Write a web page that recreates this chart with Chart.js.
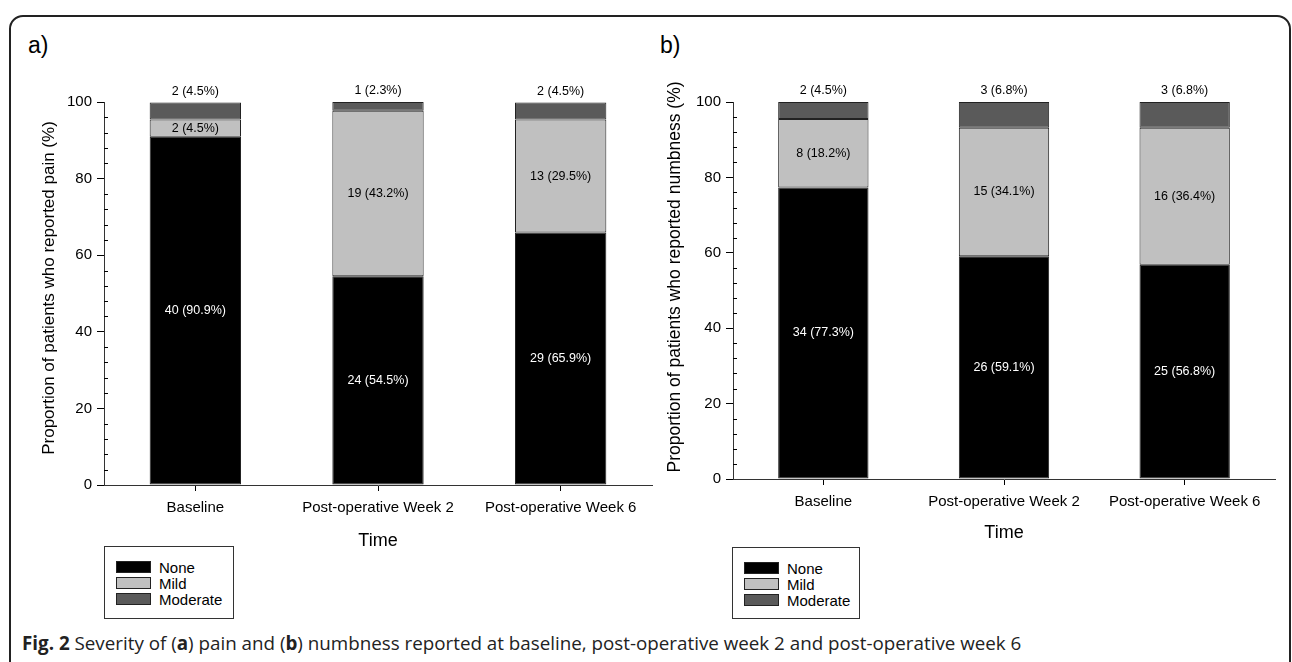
<!DOCTYPE html>
<html>
<head>
<meta charset="utf-8">
<script src="https://cdn.jsdelivr.net/npm/chart.js@4.4.1/dist/chart.umd.min.js"></script>
<style>
  body { margin: 0; background: #fff; width: 1292px; height: 662px; overflow: hidden; position: relative;
         font-family: "Liberation Sans", Arial, sans-serif; color: #000; }
  .frame { position: absolute; left: 9px; top: 15px; width: 1282px; height: 700px;
           border: 2px solid #222; border-radius: 14px; box-sizing: border-box; }
  .tag { position: absolute; font-size: 23px; line-height: 1; }
  canvas { position: absolute; }
  .legend { position: absolute; border: 1px solid #333; background: #fff; box-sizing: border-box;
            padding: 12px 0 0 11px; }
  .legend .row { display: flex; align-items: center; height: 16px; font-size: 15px; }
  .legend .sw { width: 35px; height: 12px; border: 1px solid #222; margin-right: 8px; box-sizing: border-box; }
  .caption { position: absolute; left: 22px; top: 632px; font-family: "Open Sans", sans-serif;
             font-size: 18.8px; line-height: 1.2; color: #222; white-space: nowrap; }
</style>
</head>
<body>
<div class="frame"></div>
<div class="tag" style="left:28px; top:34px;">a)</div>
<div class="tag" style="left:660px; top:34px;">b)</div>
<canvas id="painChart" width="660" height="560" style="left:0; top:0;"></canvas>
<canvas id="numbChart" width="652" height="560" style="left:640px; top:0;"></canvas>
<div class="legend" id="legendA" style="left:104px; top:546px; width:130px; height:73px;"></div>
<div class="legend" id="legendB" style="left:732px; top:547px; width:128px; height:72px;"></div>
<div class="caption"><b>Fig. 2</b> Severity of (<b>a</b>) pain and (<b>b</b>) numbness reported at baseline, post-operative week 2 and post-operative week 6</div>

<script>
const categories = ['Baseline', 'Post-operative Week 2', 'Post-operative Week 6'];
const severity = ['None', 'Mild', 'Moderate'];
const severityColors = ['#000000', '#c0c0c0', '#5a5a5a'];
const labelColors = ['#ffffff', '#000000', '#000000'];

// (a) pain: counts and percentages
const painNoneN = [40, 24, 29];
const painNonePct = [90.9, 54.5, 65.9];
const painMildN = [2, 19, 13];
const painMildPct = [4.5, 43.2, 29.5];
const painModN = [2, 1, 2];
const painModPct = [4.5, 2.3, 4.5];

// (b) numbness
const numbNoneN = [34, 26, 25];
const numbNonePct = [77.3, 59.1, 56.8];
const numbMildN = [8, 15, 16];
const numbMildPct = [18.2, 34.1, 36.4];
const numbModN = [2, 3, 3];
const numbModPct = [4.5, 6.8, 6.8];

const FONT = '"Liberation Sans", Arial, sans-serif';

// counts + percent on each segment; moderate goes above the bar
const segmentLabels = {
  id: 'segmentLabels',
  afterDatasetsDraw(chart) {
    const ctx = chart.ctx;
    ctx.save();
    ctx.font = '12.5px ' + FONT;
    ctx.textAlign = 'center';
    ctx.textBaseline = 'middle';
    chart.data.datasets.forEach((ds, i) => {
      chart.getDatasetMeta(i).data.forEach((bar, j) => {
        const text = ds.counts[j] + ' (' + ds.data[j].toFixed(1) + '%)';
        const y = i === 2 ? bar.y - 11 : (bar.y + bar.base) / 2;
        ctx.fillStyle = labelColors[i];
        ctx.fillText(text, bar.x, y);
      });
    });
    ctx.restore();
  }
};

// minor ticks point inward, y title placed by hand
const axisExtras = {
  id: 'axisExtras',
  afterDraw(chart, args, opts) {
    const ctx = chart.ctx;
    const yScale = chart.scales.y;
    const left = chart.chartArea.left;
    ctx.save();
    ctx.strokeStyle = '#000';
    ctx.lineWidth = 1;
    yScale.ticks.forEach(t => {
      if (t.value % 20 === 0) return;
      const py = Math.round(yScale.getPixelForValue(t.value)) + 0.5;
      ctx.beginPath();
      ctx.moveTo(left, py);
      ctx.lineTo(left + 4, py);
      ctx.stroke();
    });
    ctx.translate(opts.titleX, opts.titleY);
    ctx.rotate(-Math.PI / 2);
    ctx.font = opts.titleSize + 'px ' + FONT;
    ctx.fillStyle = '#000';
    ctx.textAlign = 'center';
    ctx.textBaseline = 'middle';
    ctx.fillText(opts.title, 0, 0);
    ctx.restore();
  }
};

function makeChart(id, counts, pcts, lay) {
  const datasets = severity.map((name, i) => ({
    label: name,
    data: pcts[i],
    counts: counts[i],
    backgroundColor: severityColors[i],
    borderColor: '#222',
    borderWidth: 1,
    borderSkipped: false,
    barPercentage: 0.5,
    categoryPercentage: 1,
  }));

  return new Chart(document.getElementById(id), {
    type: 'bar',
    data: { labels: categories, datasets },
    plugins: [segmentLabels, axisExtras],
    options: {
      responsive: false,
      animation: false,
      layout: { padding: { top: 102, right: lay.right, left: 0, bottom: 0 } },
      plugins: {
        legend: { display: false },
        tooltip: { enabled: false },
        axisExtras: { title: lay.title, titleX: lay.titleX, titleY: lay.titleY, titleSize: lay.titleSize }
      },
      scales: {
        x: {
          stacked: true,
          ticks: { color: '#000', font: { size: 15, family: FONT }, padding: 7.5, maxRotation: 0, autoSkip: false },
          grid: { drawOnChartArea: false, offset: false, color: '#000', tickLength: 6 },
          border: { color: '#333', width: 1 },
          title: { display: true, text: 'Time', color: '#000', font: { size: 18, family: FONT },
                   padding: { top: 0, bottom: lay.timePad } },
          afterFit(scale) { scale.height = lay.xHeight; }
        },
        y: {
          stacked: true,
          min: 0,
          max: 100,
          ticks: { stepSize: 4, autoSkip: false, color: '#000', font: { size: 15, family: FONT }, padding: 5,
                   callback: v => (v % 20 === 0 ? v : '') },
          grid: { drawOnChartArea: false, tickLength: 7,
                  tickColor: c => (c.tick && c.tick.value % 20 === 0 ? '#000' : 'rgba(0,0,0,0)') },
          border: { color: '#333', width: 1 },
          afterFit(scale) { scale.width = lay.yWidth; }
        }
      }
    }
  });
}

makeChart('painChart',
  [painNoneN, painMildN, painModN],
  [painNonePct, painMildPct, painModPct],
  { right: 8, yWidth: 104, xHeight: 75, timePad: 8, title: 'Proportion of patients who reported pain (%)',
    titleX: 49, titleY: 288, titleSize: 17 });

makeChart('numbChart',
  [numbNoneN, numbMildN, numbModN],
  [numbNonePct, numbMildPct, numbModPct],
  { right: 17, yWidth: 93, xHeight: 81, timePad: 16, title: 'Proportion of patients who reported numbness (%)',
    titleX: 35, titleY: 277, titleSize: 17.5 });

// legend boxes
function fillLegend(id) {
  const box = document.getElementById(id);
  severity.forEach((name, i) => {
    const row = document.createElement('div');
    row.className = 'row';
    const sw = document.createElement('span');
    sw.className = 'sw';
    sw.style.background = severityColors[i];
    row.appendChild(sw);
    row.appendChild(document.createTextNode(name));
    box.appendChild(row);
  });
}
fillLegend('legendA');
fillLegend('legendB');
</script>
</body>
</html>
